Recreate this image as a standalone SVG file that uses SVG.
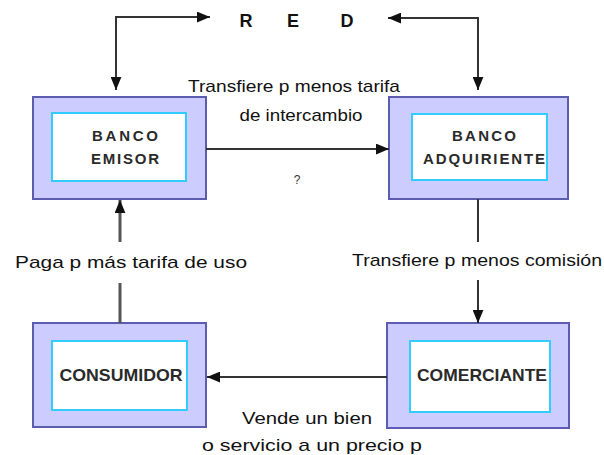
<svg xmlns="http://www.w3.org/2000/svg" width="604" height="455" viewBox="0 0 604 455">
<style>
.outer{fill:#ccccff;stroke:#5c5cb0;stroke-width:2}
.inner{fill:#ffffff;stroke:#33ccff;stroke-width:2}
.nl{font-family:"Liberation Sans",Arial,sans-serif;font-size:15px;font-weight:bold;fill:#2a2a2a;text-anchor:middle}
.big{font-size:17px}
.el{font-family:"Liberation Sans",Arial,sans-serif;font-size:17px;fill:#111;text-anchor:middle}
.red{font-family:"Liberation Sans",Arial,sans-serif;font-size:18px;font-weight:bold;fill:#111;text-anchor:middle}
.c{fill:none;stroke:#333;stroke-width:2}
</style>
<defs>
<marker id="ah" viewBox="0 0 12 10" refX="12" refY="5" markerWidth="13" markerHeight="11" orient="auto-start-reverse" markerUnits="userSpaceOnUse">
<path d="M0,0 L12,5 L0,10 z" fill="#111"/>
</marker>
</defs>
<g id="red">
<text class="red" x="246" y="27">R</text>
<text class="red" x="293" y="27">E</text>
<text class="red" x="347" y="27">D</text>
</g>
<g id="banco-emisor">
<rect class="outer" x="33" y="97" width="173" height="102"/>
<rect class="inner" x="52" y="113" width="134" height="68"/>
<text class="nl" x="125" y="141" textLength="66" lengthAdjust="spacing">BANCO</text>
<text class="nl" x="125" y="164" textLength="68" lengthAdjust="spacing">EMISOR</text>
</g>
<g id="banco-adquiriente">
<rect class="outer" x="389" y="97" width="179" height="102"/>
<rect class="inner" x="412" y="114" width="135" height="66"/>
<text class="nl" x="484" y="141" textLength="64" lengthAdjust="spacing">BANCO</text>
<text class="nl" x="484" y="164" textLength="122" lengthAdjust="spacing">ADQUIRIENTE</text>
</g>
<g id="consumidor">
<rect class="outer" x="33" y="323" width="173" height="104"/>
<rect class="inner" x="52" y="341" width="135" height="69"/>
<text class="nl big" x="121" y="381" textLength="123" lengthAdjust="spacingAndGlyphs">CONSUMIDOR</text>
</g>
<g id="comerciante">
<rect class="outer" x="387" y="323" width="182" height="105"/>
<rect class="inner" x="410" y="341" width="140" height="71"/>
<text class="nl big" x="482" y="381" textLength="130" lengthAdjust="spacingAndGlyphs">COMERCIANTE</text>
</g>
<g id="connectors">
<path class="c" d="M116,90 V17 H210" marker-start="url(#ah)" marker-end="url(#ah)"/>
<path class="c" d="M388,18 H478 V90" marker-start="url(#ah)" marker-end="url(#ah)"/>
<path class="c" d="M206,149 H389" marker-end="url(#ah)"/>
<path class="c" d="M120,323 V283" style="stroke:#555;stroke-width:3"/>
<path class="c" d="M120,242 V200" style="stroke:#555;stroke-width:3" marker-end="url(#ah)"/>
<path class="c" d="M478,199 V242"/>
<path class="c" d="M478,280 V323" marker-end="url(#ah)"/>
<path class="c" d="M387,377 H207" marker-end="url(#ah)"/>
</g>
<g id="labels">
<text class="el" x="294" y="92" textLength="212" lengthAdjust="spacingAndGlyphs">Transfiere p menos tarifa</text>
<text class="el" x="301" y="121" textLength="123" lengthAdjust="spacingAndGlyphs">de intercambio</text>
<text class="el" x="297" y="184" style="font-size:12px;fill:#333">?</text>
<text class="el" x="131" y="268" textLength="232" lengthAdjust="spacingAndGlyphs">Paga p más tarifa de uso</text>
<text class="el" x="477" y="266" textLength="250" lengthAdjust="spacingAndGlyphs">Transfiere p menos comisión</text>
<text class="el" x="307" y="424" textLength="130" lengthAdjust="spacingAndGlyphs">Vende un bien</text>
<text class="el" x="312" y="451" textLength="220" lengthAdjust="spacingAndGlyphs">o servicio a un precio p</text>
</g>
</svg>
